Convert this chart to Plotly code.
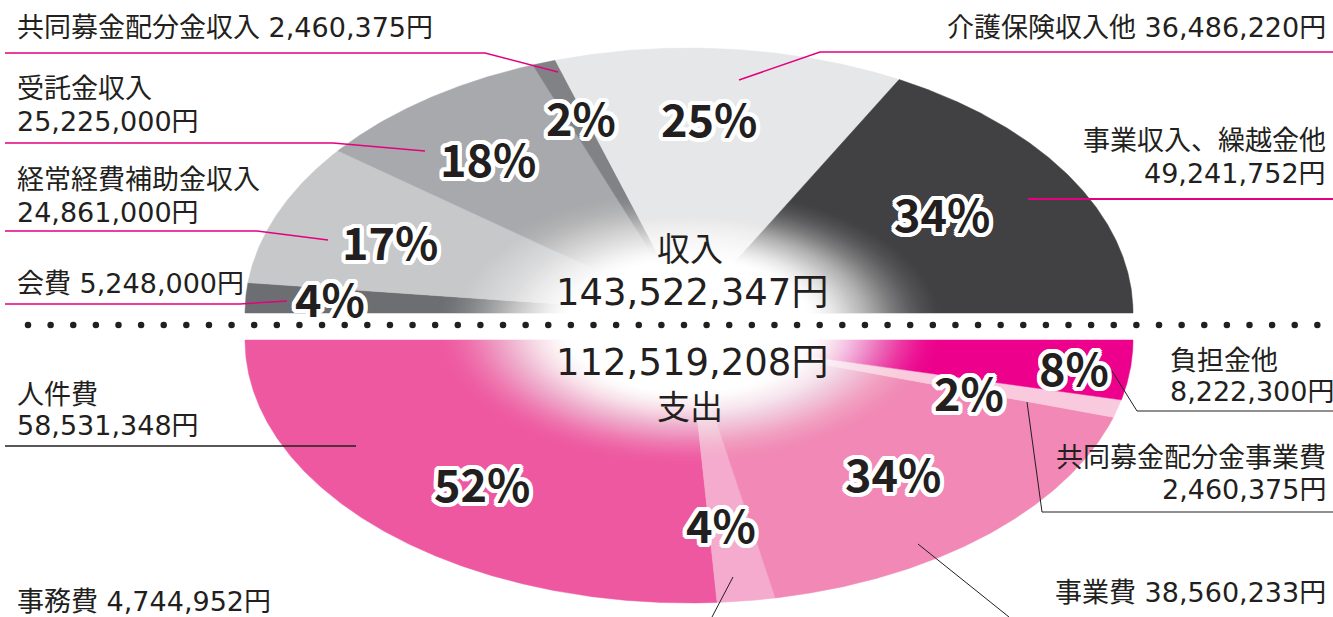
import numpy as np
import plotly.graph_objects as go

W, H = 1333, 617

# ---------------- data ----------------
income_names = ["会費", "経常経費補助金収入", "受託金収入", "共同募金配分金収入", "介護保険収入他", "事業収入、繰越金他"]
income_values = [5248000, 24861000, 25225000, 2460375, 36486220, 49241752]
income_pct = ["4%", "17%", "18%", "2%", "25%", "34%"]
income_total = 143522347

expense_names = ["人件費", "事務費", "事業費", "共同募金配分金事業費", "負担金他"]
expense_values = [58531348, 4744952, 38560233, 2460375, 8222300]
expense_pct = ["52%", "4%", "34%", "2%", "8%"]
expense_total = 112519208

income_colors = ["#6d6e71", "#c7c8ca", "#a7a9ac", "#808285", "#e6e7e8", "#414042"]
expense_colors = ["#ee58a0", "#f4abcd", "#f188b5", "#f9c9dd", "#ec008c"]

# ---------------- geometry ----------------
CX = 689
TOP_CY, TOP_A, TOP_B = 313, 444, 265
BOT_CY, BOT_A, BOT_B = 340, 444, 263

FONT = "DejaVu Sans, Noto Sans CJK JP"
PFONT = "Noto Sans CJK JP"
TXT = "#231f20"
MAG = "#e4007f"

fig = go.Figure()

def add_poly(xs, ys, color):
    fig.add_trace(go.Scatter(x=xs, y=ys, mode="lines", fill="toself", fillcolor=color,
                             line=dict(color=color, width=0.5), hoverinfo="skip", showlegend=False))

# top half (income): from left (180deg) clockwise to right (0deg)
t = 180.0
tot = sum(income_values)
for v, c in zip(income_values, income_colors):
    t1 = t - 180.0 * v / tot
    ts = np.radians(np.linspace(t, t1, int(abs(t - t1) * 3) + 3))
    xs = [CX] + list(CX + TOP_A * np.cos(ts)) + [CX]
    ys = [TOP_CY] + list(TOP_CY - TOP_B * np.sin(ts)) + [TOP_CY]
    add_poly(xs, ys, c)
    t = t1

# bottom half (expense): from left through bottom to right
s = 0.0
tot = sum(expense_values)
for v, c in zip(expense_values, expense_colors):
    s1 = s + 180.0 * v / tot
    ss = np.radians(np.linspace(s, s1, int(abs(s1 - s) * 3) + 3))
    xs = [CX] + list(CX - BOT_A * np.cos(ss)) + [CX]
    ys = [BOT_CY] + list(BOT_CY + BOT_B * np.sin(ss)) + [BOT_CY]
    add_poly(xs, ys, c)
    s = s1

# white radial glow in the centre (stacked translucent ellipses)
GX, GY, GA, GB = 689, 326, 265, 145
R_IN = 0.45
ge = np.radians(np.linspace(0, 360, 181))

def glow(r):
    u = np.clip((1.0 - r) / (1.0 - R_IN), 0, 1)
    return u * u * (3 - 2 * u)

n_layers = 60
radii = np.linspace(0.99, R_IN, n_layers)
prev = 0.0
for r in radii:
    g = glow(r)
    a = 1.0 - (1.0 - g) / (1.0 - prev) if prev < 1 else 1.0
    prev = g
    if r == radii[-1]:
        a = 1.0
    fig.add_trace(go.Scatter(
        x=list(GX + GA * r * np.cos(ge)), y=list(GY + GB * r * np.sin(ge)),
        mode="lines", fill="toself", fillcolor=f"rgba(255,255,255,{a:.4f})",
        line=dict(width=0, color="rgba(255,255,255,0)"),
        hoverinfo="skip", showlegend=False))

# dotted separator
dx = np.arange(28, 1330, 22.62)
fig.add_trace(go.Scatter(x=dx, y=[325] * len(dx), mode="markers",
                         marker=dict(size=6.5, color=TXT), hoverinfo="skip", showlegend=False))

# leader lines
def leader(pts, color, width):
    fig.add_trace(go.Scatter(x=[p[0] for p in pts], y=[p[1] for p in pts], mode="lines",
                             line=dict(color=color, width=width), hoverinfo="skip", showlegend=False))

leader([(5, 53), (485, 53), (558, 72)], MAG, 1.5)
leader([(5, 143), (333, 143), (425, 151)], MAG, 1.5)
leader([(5, 231), (257, 231), (328, 240)], MAG, 1.5)
leader([(5, 304), (240, 304), (287, 301)], MAG, 1.5)
leader([(739, 80), (820, 52), (1333, 52)], MAG, 1.5)
leader([(1028, 199), (1333, 199)], MAG, 1.8)

leader([(5, 446), (356, 446)], TXT, 1.3)
leader([(733, 577), (712, 617)], TXT, 1.0)
leader([(918, 544), (1009, 617)], TXT, 1.0)
leader([(1112, 371), (1137, 411), (1333, 411)], TXT, 1.0)
leader([(1027, 402), (1042, 512), (1333, 512)], TXT, 1.0)

# ---------------- text ----------------
ann = []

def label(x, y, text, anchor, size=27):
    ann.append(dict(x=x, y=y, xref="x", yref="y", text=text, showarrow=False,
                    xanchor=anchor, yanchor="middle",
                    font=dict(family=FONT, size=size, color=TXT)))

def yen(v):
    return f"{v:,}円"

inc = dict(zip(income_names, income_values))
exp = dict(zip(expense_names, expense_values))

label(15, 27, f"共同募金配分金収入 {yen(inc['共同募金配分金収入'])}", "left")
label(15, 88, "受託金収入", "left")
label(15, 121, yen(inc["受託金収入"]), "left")
label(15, 179, "経常経費補助金収入", "left")
label(15, 212, yen(inc["経常経費補助金収入"]), "left")
label(15, 283, f"会費 {yen(inc['会費'])}", "left")
label(1328, 27, f"介護保険収入他 {yen(inc['介護保険収入他'])}", "right")
label(1328, 140, "事業収入、繰越金他", "right")
label(1328, 173, yen(inc["事業収入、繰越金他"]), "right")

label(1168, 360, "負担金他", "left")
label(1168, 391, yen(exp["負担金他"]), "left")
label(1328, 457, "共同募金配分金事業費", "right")
label(1328, 489, yen(exp["共同募金配分金事業費"]), "right")
label(1328, 592, f"事業費 {yen(exp['事業費'])}", "right")
label(15, 394, "人件費", "left")
label(15, 425, yen(exp["人件費"]), "left")
label(15, 601, f"事務費 {yen(exp['事務費'])}", "left")

# centre totals
label(690, 249, "収入", "center", 33)
label(692, 292, yen(income_total), "center", 37)
label(692, 362, yen(expense_total), "center", 37)
label(690, 407, "支出", "center", 33)

# percentages
outline = ", ".join(f"{a}px {b}px 0 #ffffff" for a, b in
                    [(4, 0), (-4, 0), (0, 4), (0, -4), (3, 3), (-3, 3), (3, -3), (-3, -3),
                     (2, 4), (-2, 4), (2, -4), (-2, -4), (4, 2), (-4, 2), (4, -2), (-4, -2)])
inc_pos = [(330, 297), (390, 240), (488, 157), (581, 116), (709, 117), (942, 212)]
exp_pos = [(482, 482), (721, 523), (893, 472), (969, 391), (1074, 366)]
for (x, y), p in list(zip(inc_pos, income_pct)) + list(zip(exp_pos, expense_pct)):
    ann.append(dict(x=x, y=y, xref="x", yref="y", text=p, showarrow=False,
                    xanchor="center", yanchor="middle",
                    font=dict(family=PFONT, size=45, color=TXT, weight=700, shadow=outline)))

fig.update_layout(
    width=W, height=H, margin=dict(l=0, r=0, t=0, b=0),
    paper_bgcolor="white", plot_bgcolor="white",
    xaxis=dict(range=[0, W], visible=False, fixedrange=True),
    yaxis=dict(range=[H, 0], visible=False, fixedrange=True),
    annotations=ann, showlegend=False,
)

fig.write_html("out.html", config={"displayModeBar": False},
               post_script="document.body.style.margin='0px';document.body.style.overflow='hidden';")
